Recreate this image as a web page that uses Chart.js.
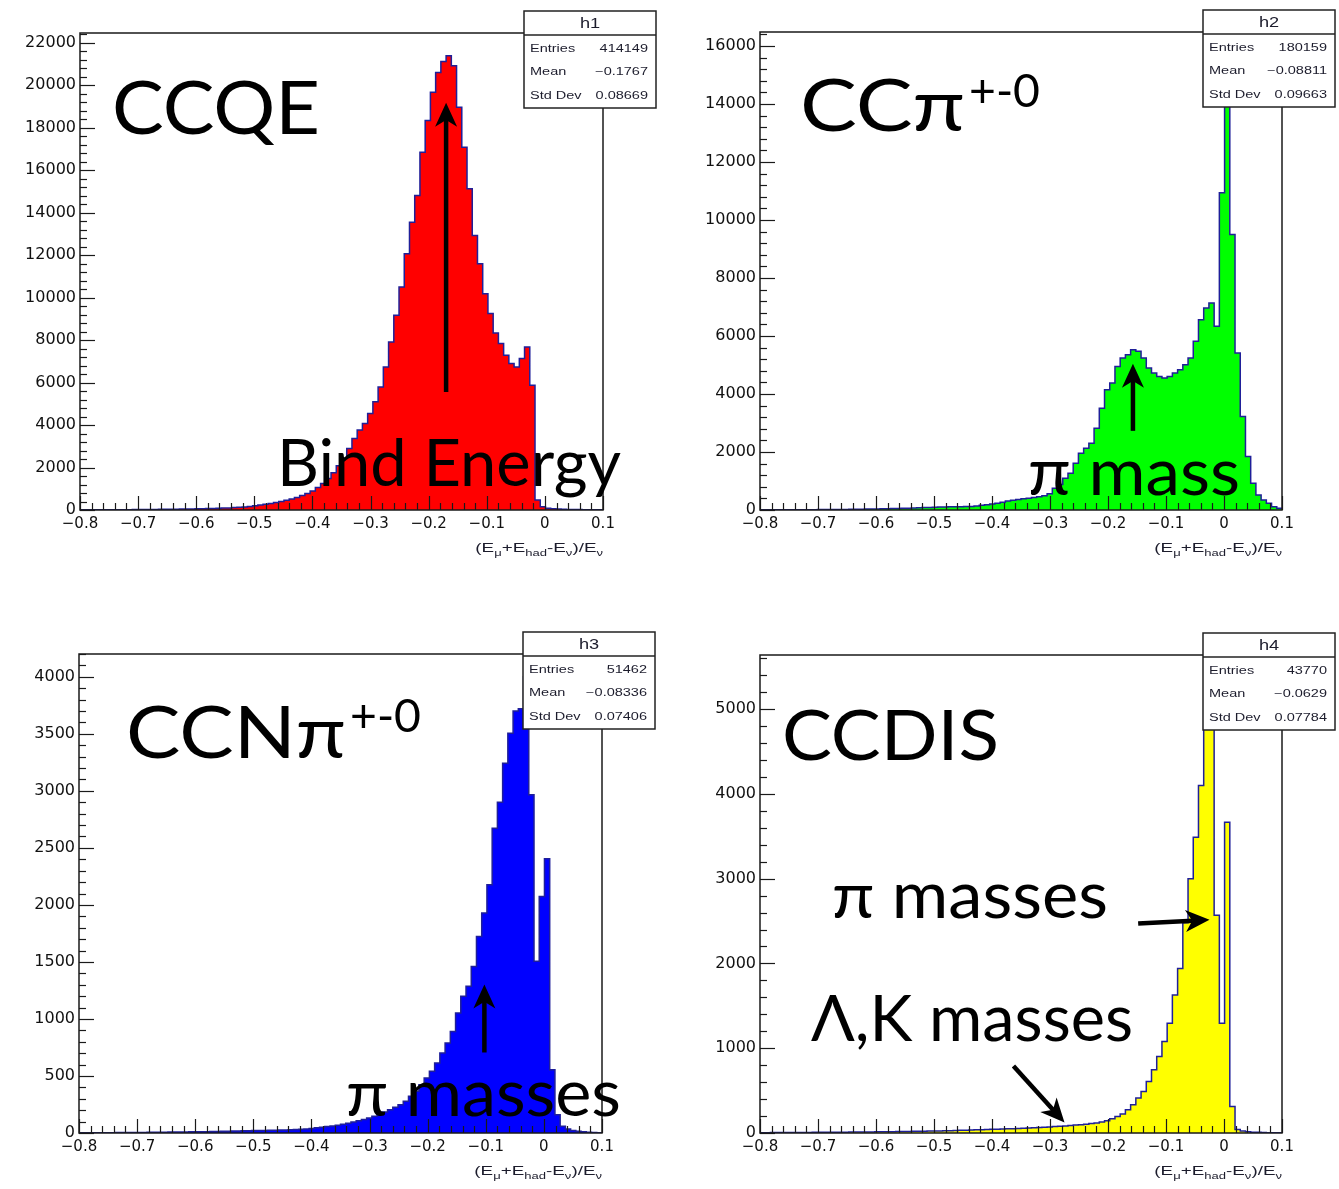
<!DOCTYPE html>
<html>
<head>
<meta charset="utf-8">
<title>Energy balance by interaction channel</title>
<script src="https://cdn.jsdelivr.net/npm/chart.js@4.4.1/dist/chart.umd.min.js"></script>
<style>
    body { margin: 0; background: #ffffff; }
    #page { position: relative; width: 1339px; height: 1189px; overflow: hidden; background: #ffffff; }
    #page canvas { position: absolute; }
</style>
</head>
<body>
<div id="page">
    <canvas id="pad1" width="670" height="595" style="left:0px;top:0px"></canvas>
    <canvas id="pad2" width="669" height="595" style="left:670px;top:0px"></canvas>
    <canvas id="pad3" width="670" height="594" style="left:0px;top:595px"></canvas>
    <canvas id="pad4" width="669" height="594" style="left:670px;top:595px"></canvas>
</div>
<script>
// -----------------------------
// BINNING + TICK LABELS
// -----------------------------
const xMin = -0.8;
const xMax = 0.1;
const nBins = 100;
const binWidth = (xMax - xMin) / nBins;

const xTickLabels = ["\u22120.8", "\u22120.7", "\u22120.6", "\u22120.5", "\u22120.4",
                     "\u22120.3", "\u22120.2", "\u22120.1", "0", "0.1"];

const ccqeYTicks = [0, 2000, 4000, 6000, 8000, 10000, 12000, 14000, 16000, 18000, 20000, 22000];
const ccPiYTicks = [0, 2000, 4000, 6000, 8000, 10000, 12000, 14000, 16000];
const ccNPiYTicks = [0, 500, 1000, 1500, 2000, 2500, 3000, 3500, 4000];
const ccDisYTicks = [0, 1000, 2000, 3000, 4000, 5000];

const statsLabels = ["Entries", "Mean", "Std Dev"];


// -----------------------------
// BIN CONTENTS (100 bins each)
// -----------------------------
const ccqeCounts = [
    6, 7, 8, 9, 10, 11, 12, 13, 15, 16,
    18, 20, 22, 24, 27, 30, 33, 36, 40, 43,
    46, 51, 56, 62, 68, 75, 83, 91, 100, 112,
    126, 145, 170, 198, 230, 268, 310, 355, 405, 460,
    520, 590, 680, 780, 900, 1060, 1250, 1480, 1750, 2080,
    2450, 2899, 3369, 3761, 4075, 4545, 5092, 5797, 6737, 7913,
    9167, 10497, 12067, 13553, 14807, 16845, 18333, 19664, 20604, 21122,
    21389, 20918, 18959, 17078, 15122, 12927, 11597, 10186, 9246, 8335,
    7834, 7286, 6895, 6737, 7130, 7677, 5876, 470, 150, 80,
    60, 45, 35, 28, 22, 18, 14, 11, 9, 7
];

const ccPiCounts = [
    5, 5, 6, 6, 7, 7, 8, 9, 10, 11,
    12, 13, 14, 15, 17, 19, 21, 23, 25, 28,
    31, 34, 37, 41, 45, 49, 54, 59, 64, 70,
    76, 82, 88, 94, 100, 104, 108, 111, 114, 117,
    120, 140, 160, 185, 207, 235, 270, 310, 340, 365,
    385, 405, 430, 460, 490, 560, 750, 880, 1094, 1267,
    1612, 1958, 2131, 2304, 2822, 3513, 4147, 4378, 4953, 5241,
    5356, 5529, 5471, 5241, 4896, 4723, 4607, 4550, 4607, 4723,
    4838, 5010, 5241, 5816, 6565, 6969, 7142, 6334, 10943, 15700,
    9502, 5415, 3225, 1843, 921, 518, 345, 230, 115, 58
];

const ccNPiCounts = [
    2, 2, 2, 3, 3, 3, 3, 4, 4, 4,
    5, 5, 5, 6, 6, 7, 7, 8, 8, 9,
    9, 10, 11, 11, 12, 13, 14, 15, 16, 17,
    18, 19, 20, 21, 22, 23, 24, 25, 26, 27,
    28, 30, 33, 36, 40, 45, 50, 56, 62, 69,
    77, 86, 96, 107, 119, 132, 146, 164, 184, 204,
    225, 248, 278, 322, 365, 423, 482, 541, 613, 701,
    789, 891, 1052, 1198, 1286, 1461, 1724, 1928, 2176, 2673,
    2901, 3243, 3506, 3700, 3720, 4000, 2965, 1505, 2074, 2404,
    555, 160, 60, 35, 22, 15, 10, 7, 5, 3
];

const ccDisCounts = [
    4, 4, 5, 5, 5, 6, 6, 6, 7, 7,
    8, 8, 8, 9, 9, 10, 10, 11, 11, 12,
    12, 13, 14, 14, 15, 16, 17, 18, 19, 20,
    21, 22, 23, 24, 25, 26, 28, 29, 31, 33,
    35, 37, 39, 41, 43, 45, 47, 49, 51, 53,
    56, 59, 62, 65, 68, 72, 76, 80, 84, 88,
    93, 98, 104, 111, 118, 129, 145, 169, 196, 224,
    274, 333, 412, 490, 608, 745, 902, 1078, 1294, 1627,
    1941, 2480, 3000, 3490, 4098, 4980, 5370, 2568, 1294, 3667,
    314, 40, 25, 15, 10, 8, 5, 4, 3, 2
];

// stats box contents: entries, mean, std dev
const ccqeStats = ["414149", "\u22120.1767", "0.08669"];
const ccPiStats = ["180159", "\u22120.08811", "0.09663"];
const ccNPiStats = ["51462", "\u22120.08336", "0.07406"];
const ccDisStats = ["43770", "\u22120.0629", "0.07784"];


// -----------------------------
// PAD SETUP
// -----------------------------
const pads = [
    {
        canvas: "pad1", name: "h1", counts: ccqeCounts, stats: ccqeStats,
        yTicks: ccqeYTicks, fill: "#ff0000", yWidth: 80,
        padding: { left: 0, top: 33, right: 67, bottom: 45 },
        notes: [
            { text: "CCQE", x: 112, y: 134, size: 74, width: 208 },
            { text: "Bind Energy", x: 277, y: 486, size: 66, width: 344 }
        ],
        arrows: [
            { x1: -0.170, y1: 5550, x2: -0.170, y2: 19180 }
        ]
    },
    {
        canvas: "pad2", name: "h2", counts: ccPiCounts, stats: ccPiStats,
        yTicks: ccPiYTicks, fill: "#00ff00", yWidth: 90,
        padding: { left: 0, top: 32, right: 57, bottom: 45 },
        notes: [
            { text: "CC\u03c0", x: 130, y: 131, size: 72, width: 165,
              sup: "+-0", supSize: 46, supWidth: 71, supRise: 24 },
            { text: "\u03c0 mass", x: 358, y: 495, size: 66, width: 212 }
        ],
        arrows: [
            { x1: -0.157, y1: 2730, x2: -0.157, y2: 5045 }
        ]
    },
    {
        canvas: "pad3", name: "h3", counts: ccNPiCounts, stats: ccNPiStats,
        yTicks: ccNPiYTicks, fill: "#0000ff", yWidth: 79,
        padding: { left: 0, top: 59, right: 68, bottom: 16 },
        notes: [
            { text: "CCN\u03c0", x: 126, y: 163, size: 72, width: 220,
              sup: "+-0", supSize: 46, supWidth: 71, supRise: 26 },
            { text: "\u03c0 masses", x: 346, y: 521, size: 64, width: 275 }
        ],
        arrows: [
            { x1: -0.1024, y1: 706, x2: -0.1024, y2: 1303 }
        ]
    },
    {
        canvas: "pad4", name: "h4", counts: ccDisCounts, stats: ccDisStats,
        yTicks: ccDisYTicks, fill: "#ffff00", yWidth: 90,
        padding: { left: 0, top: 60, right: 57, bottom: 16 },
        notes: [
            { text: "CCDIS", x: 112, y: 165, size: 70, width: 217 },
            { text: "\u03c0 masses", x: 162, y: 323, size: 64, width: 276 },
            { text: "\u039b,K masses", x: 141, y: 446, size: 64, width: 322 }
        ],
        arrows: [
            { x1: -0.148, y1: 2470, x2: -0.025, y2: 2515 },
            { x1: -0.363, y1: 791, x2: -0.275, y2: 123 }
        ]
    }
];

// x-axis title pieces: [text, isSubscript]
const axisTitle = [["(E", 0], ["\u03bc", 1], ["+E", 0], ["had", 1], ["-E", 0],
                   ["\u03bd", 1], [")/E", 0], ["\u03bd", 1]];


// -----------------------------
// DRAW HELPERS
// -----------------------------
function line(ctx, x1, y1, x2, y2) {
    ctx.beginPath();
    ctx.moveTo(x1, y1);
    ctx.lineTo(x2, y2);
    ctx.stroke();
}

// ROOT text comes out wide, so squeeze/stretch horizontally
function stretchText(ctx, text, x, y, sx, align) {
    ctx.save();
    ctx.translate(x, y);
    ctx.scale(sx, 1);
    ctx.textAlign = align;
    ctx.fillText(text, 0, 0);
    ctx.restore();
}

function drawAxesFrame(chart, p) {
    const ctx = chart.ctx;
    const a = chart.chartArea;
    const xs = chart.scales.x;
    const ys = chart.scales.y;

    ctx.save();
    ctx.strokeStyle = "#1a1a1a";
    ctx.lineWidth = 1.2;

    // x ticks, major every 0.1 and 4 minor in between
    for (let k = 0; k <= 45; k++) {
        const px = Math.round(xs.getPixelForValue(xMin + k * 0.02)) + 0.5;
        const len = k % 5 === 0 ? 14 : 7;
        line(ctx, px, a.bottom, px, a.bottom - len);
    }

    // y ticks, 4 minor between labelled ones
    const minor = (p.yTicks[1] - p.yTicks[0]) / 5;
    for (let k = 0; k * minor <= ys.max; k++) {
        const py = Math.round(ys.getPixelForValue(k * minor)) + 0.5;
        const len = k % 5 === 0 ? 15 : 7;
        line(ctx, a.left, py, a.left + len, py);
    }

    // frame
    ctx.lineWidth = 1.5;
    ctx.strokeRect(a.left, a.top, a.right - a.left, a.bottom - a.top);
    ctx.restore();
}

function drawStatsBox(chart, p) {
    const ctx = chart.ctx;
    const a = chart.chartArea;
    const w = 132, h = 97;
    const x = a.right + 53 - w;
    const y = a.top - 22;

    ctx.save();
    ctx.fillStyle = "#ffffff";
    ctx.fillRect(x, y, w, h);
    ctx.strokeStyle = "#222222";
    ctx.lineWidth = 1.5;
    ctx.strokeRect(x, y, w, h);
    line(ctx, x, y + 24, x + w, y + 24);

    ctx.fillStyle = "#1c1c2c";
    ctx.textBaseline = "middle";
    ctx.font = "14px 'Liberation Sans'";
    stretchText(ctx, p.name, x + w / 2, y + 13, 1.3, "center");

    ctx.font = "10px 'Liberation Sans'";
    statsLabels.forEach((lab, i) => {
        const ty = y + 38 + i * 23.5;
        stretchText(ctx, lab, x + 6, ty, 1.45, "left");
        stretchText(ctx, p.stats[i], x + w - 8, ty, 1.45, "right");
    });
    ctx.restore();
}

function drawAxisTitle(chart) {
    const ctx = chart.ctx;
    const a = chart.chartArea;
    const sx = 1.45;
    const mainFont = "13px 'Liberation Sans'";
    const subFont = "9px 'Liberation Sans'";

    ctx.save();
    ctx.fillStyle = "#1c1c2c";
    ctx.textBaseline = "alphabetic";

    let total = 0;
    axisTitle.forEach(([t, sub]) => {
        ctx.font = sub ? subFont : mainFont;
        total += ctx.measureText(t).width * sx;
    });

    let x = a.right - total;
    const base = a.bottom + 42;
    axisTitle.forEach(([t, sub]) => {
        ctx.font = sub ? subFont : mainFont;
        stretchText(ctx, t, x, sub ? base + 4 : base, sx, "left");
        x += ctx.measureText(t).width * sx;
    });
    ctx.restore();
}

function drawArrow(ctx, x1, y1, x2, y2) {
    const head = 24, half = 11;
    const ang = Math.atan2(y2 - y1, x2 - x1);
    const c = Math.cos(ang), s = Math.sin(ang);
    const bx = x2 - head * c, by = y2 - head * s;

    ctx.lineWidth = 4.5;
    line(ctx, x1, y1, x2 - head * 0.7 * c, y2 - head * 0.7 * s);

    ctx.beginPath();
    ctx.moveTo(x2, y2);
    ctx.lineTo(bx - half * s, by + half * c);
    ctx.lineTo(x2 - head * 0.72 * c, y2 - head * 0.72 * s);
    ctx.lineTo(bx + half * s, by - half * c);
    ctx.closePath();
    ctx.fill();
}

function drawNotes(chart, p) {
    const ctx = chart.ctx;
    const xs = chart.scales.x;
    const ys = chart.scales.y;

    ctx.save();
    ctx.fillStyle = "#000000";
    ctx.strokeStyle = "#000000";
    ctx.textBaseline = "alphabetic";

    p.arrows.forEach(ar => {
        drawArrow(ctx,
            xs.getPixelForValue(ar.x1), ys.getPixelForValue(ar.y1),
            xs.getPixelForValue(ar.x2), ys.getPixelForValue(ar.y2));
    });

    p.notes.forEach(n => {
        ctx.font = n.size + "px Lato";
        const sx = n.width / ctx.measureText(n.text).width;
        stretchText(ctx, n.text, n.x, n.y, sx, "left");
        if (n.sup) {
            ctx.font = n.supSize + "px Lato";
            const ssx = n.supWidth / ctx.measureText(n.sup).width;
            stretchText(ctx, n.sup, n.x + n.width + 4, n.y - n.supRise, ssx, "left");
        }
    });
    ctx.restore();
}

function rootPadPlugin(p) {
    return {
        id: "rootPad_" + p.canvas,
        afterDatasetsDraw(chart) {
            drawAxesFrame(chart, p);
        },
        afterDraw(chart) {
            drawStatsBox(chart, p);
            drawAxisTitle(chart);
            drawNotes(chart, p);
        }
    };
}


// -----------------------------
// BUILD ONE HISTOGRAM PAD
// -----------------------------
function drawPad(p) {
    const ctx = document.getElementById(p.canvas).getContext("2d");

    // left bin edges, plus the closing edge at xMax
    const points = p.counts.map((c, i) => ({ x: xMin + i * binWidth, y: c }));
    points.push({ x: xMax, y: p.counts[nBins - 1] });

    const yMax = Math.max(...p.counts) * 1.05;

    return new Chart(ctx, {
        type: "line",
        data: {
            datasets: [{
                data: points,
                stepped: "before",
                fill: "origin",
                backgroundColor: p.fill,
                borderColor: "#1f1f99",
                borderWidth: 1.5,
                pointRadius: 0,
                tension: 0
            }]
        },
        options: {
            responsive: false,
            animation: false,
            events: [],
            layout: { padding: p.padding },
            plugins: {
                legend: { display: false },
                tooltip: { enabled: false }
            },
            scales: {
                x: {
                    type: "linear",
                    min: xMin,
                    max: xMax,
                    grid: { display: false, drawTicks: false },
                    border: { display: false },
                    ticks: {
                        stepSize: 0.1,
                        autoSkip: false,
                        maxRotation: 0,
                        padding: 5,
                        color: "#111111",
                        font: { family: "'DejaVu Sans'", size: 15 },
                        callback: v => xTickLabels[Math.round((v - xMin) / 0.1)]
                    },
                    afterFit: s => { s.height = 40; }
                },
                y: {
                    type: "linear",
                    min: 0,
                    max: yMax,
                    grid: { display: false, drawTicks: false },
                    border: { display: false },
                    ticks: {
                        autoSkip: false,
                        padding: 4,
                        color: "#111111",
                        font: { family: "'DejaVu Sans'", size: 16 },
                        callback: v => String(v)
                    },
                    afterBuildTicks: s => { s.ticks = p.yTicks.map(v => ({ value: v })); },
                    afterFit: s => { s.width = p.yWidth; }
                }
            }
        },
        plugins: [rootPadPlugin(p)]
    });
}

pads.forEach(drawPad);
</script>
</body>
</html>
